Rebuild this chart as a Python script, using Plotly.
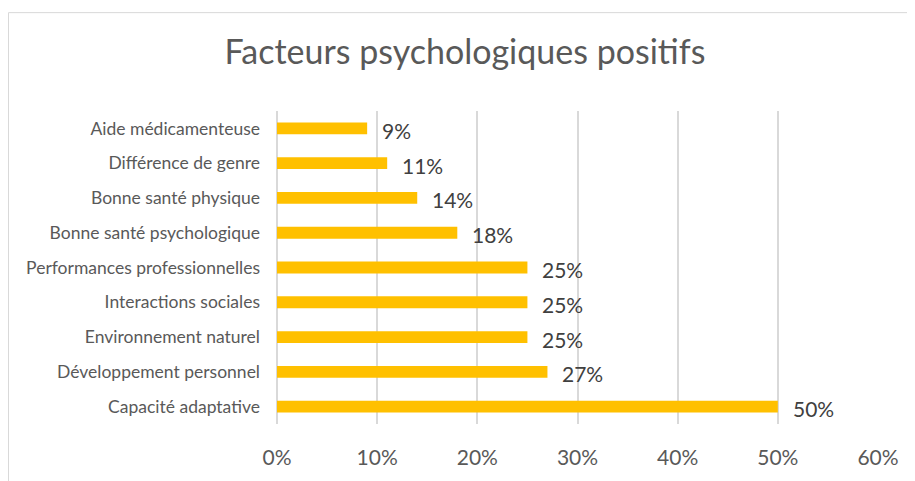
import plotly.graph_objects as go

categories = ["Capacité adaptative", "Développement personnel", "Environnement naturel",
              "Interactions sociales", "Performances professionnelles",
              "Bonne santé psychologique", "Bonne santé physique",
              "Différence de genre", "Aide médicamenteuse"]
values = [0.50, 0.27, 0.25, 0.25, 0.25, 0.18, 0.14, 0.11, 0.09]
labels = ["50%", "27%", "25%", "25%", "25%", "18%", "14%", "11%", "9%"]
tick_vals = [0, 0.1, 0.2, 0.3, 0.4, 0.5, 0.6]
tick_text = ["0%", "10%", "20%", "30%", "40%", "50%", "60%"]

FONT = "Lato"
OFF = 8  # page body margin
W, H = 915 - OFF, 481 - OFF
L, R, T, B = 277 - OFF, 37, 111 - OFF, 55
pw, ph = W - L - R, H - T - B

fig = go.Figure()
fig.add_trace(go.Bar(
    y=categories, x=values, orientation="h",
    marker=dict(color="#FFC000", line=dict(width=0)),
    width=0.34, hoverinfo="skip",
))
for c, v, t in zip(categories, values, labels):
    fig.add_annotation(x=v, y=c, text=t, showarrow=False, xanchor="left",
                       xshift=13, yshift=-2, font=dict(family=FONT, size=21, color="#404040"))

x_left = (0.5 - L) / pw
y_top = 1 + (T - (12 - OFF)) / ph
x_right = (W + 5 - L) / pw
y_bot = -(B + 5) / ph
fig.add_shape(type="line", xref="paper", yref="paper", x0=x_left, x1=x_right, y0=y_top, y1=y_top,
              line=dict(color="#D9D9D9", width=1))
fig.add_shape(type="line", xref="paper", yref="paper", x0=x_left, x1=x_left, y0=y_bot, y1=y_top,
              line=dict(color="#D9D9D9", width=1))

fig.update_layout(
    width=W, height=H,
    margin=dict(l=L, r=R, t=T, b=B, pad=0),
    paper_bgcolor="white", plot_bgcolor="white",
    showlegend=False,
    title=dict(text="Facteurs psychologiques positifs", x=(465 - OFF) / W, xanchor="center",
               y=1 - (52 - OFF) / H, yanchor="middle",
               font=dict(family=FONT, size=34, color="#595959")),
    xaxis=dict(range=[0, 0.6], tickvals=tick_vals, ticktext=tick_text,
               showgrid=True, gridcolor="#D9D9D9", gridwidth=1.5,
               zeroline=True, zerolinecolor="#D9D9D9", zerolinewidth=1.5,
               showline=False, ticks="", ticklabelstandoff=19,
               tickfont=dict(family=FONT, size=21, color="#595959"), fixedrange=True),
    yaxis=dict(categoryorder="array", categoryarray=categories,
               showgrid=False, zeroline=False, showline=False, ticks="",
               ticklabelstandoff=16,
               tickfont=dict(family=FONT, size=17.5, color="#595959"), fixedrange=True),
)
fig.write_html("out.html")
